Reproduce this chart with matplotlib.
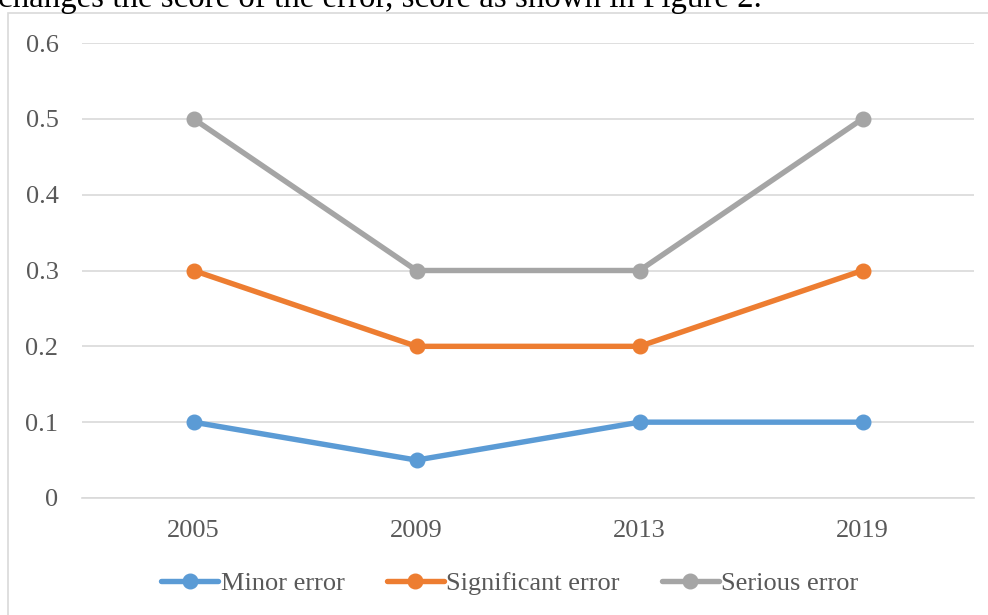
import matplotlib
matplotlib.use("Agg")
import matplotlib.pyplot as plt
from matplotlib.patches import Rectangle

years = ["2005", "2009", "2013", "2019"]
minor = [0.1, 0.05, 0.1, 0.1]
significant = [0.3, 0.2, 0.2, 0.3]
serious = [0.5, 0.3, 0.3, 0.5]
series_names = ["Minor error", "Significant error", "Serious error"]
colors = ["#5B9BD5", "#ED7D31", "#A5A5A5"]
y_ticks = [0, 0.1, 0.2, 0.3, 0.4, 0.5, 0.6]
y_labels = ["0", "0.1", "0.2", "0.3", "0.4", "0.5", "0.6"]

plt.rcParams["font.family"] = ["Liberation Serif", "DejaVu Serif"]

W, H = 988, 615
fig = plt.figure(figsize=(W / 100, H / 100), dpi=100)

# chart frame (border of the embedded chart)
fig.patches.append(Rectangle((8 / W, -0.1), 1.2, 1 - 13 / H + 0.1,
                             transform=fig.transFigure, fill=False,
                             edgecolor="#D9D9D9", linewidth=1.2))

# cropped document text above the chart
fig.text(-2 / W, 1 - 7 / H, "changes the score of the error, score as shown in Figure 2.",
         fontsize=23.7, color="black", ha="left", va="baseline")

left, right = 82 / W, 974 / W
top, bottom = 1 - 43 / H, 1 - 498 / H
ax = fig.add_axes([left, bottom, right - left, top - bottom])

x = list(range(len(years)))
for vals, name, c in zip([minor, significant, serious], series_names, colors):
    ax.plot(x, vals, color=c, linewidth=3.9, marker="o", markersize=10.5,
            label=name, solid_capstyle="round", zorder=3)

ax.set_xlim(-0.5, len(years) - 0.5)
ax.set_ylim(0, 0.6)
ax.set_yticks(y_ticks)
ax.set_yticklabels(y_labels)
ax.set_xticks(x)
ax.set_xticklabels(years)
ax.grid(axis="y", color="#D9D9D9", linewidth=1.2, zorder=0)
for s in ["top", "right", "left"]:
    ax.spines[s].set_visible(False)
ax.spines["bottom"].set_color("#D9D9D9")
ax.spines["bottom"].set_linewidth(1.2)
ax.tick_params(axis="both", length=0, labelsize=19, colors="#595959")
ax.tick_params(axis="y", pad=17)
ax.tick_params(axis="x", pad=16)

leg = ax.legend(loc="center", bbox_to_anchor=(510 / W, 1 - 583 / H),
                bbox_transform=fig.transFigure, ncol=3, frameon=False,
                fontsize=19, handlelength=2.15, handletextpad=0.1,
                columnspacing=1.6, labelcolor="#595959")

fig.savefig("out.png", dpi=100)
